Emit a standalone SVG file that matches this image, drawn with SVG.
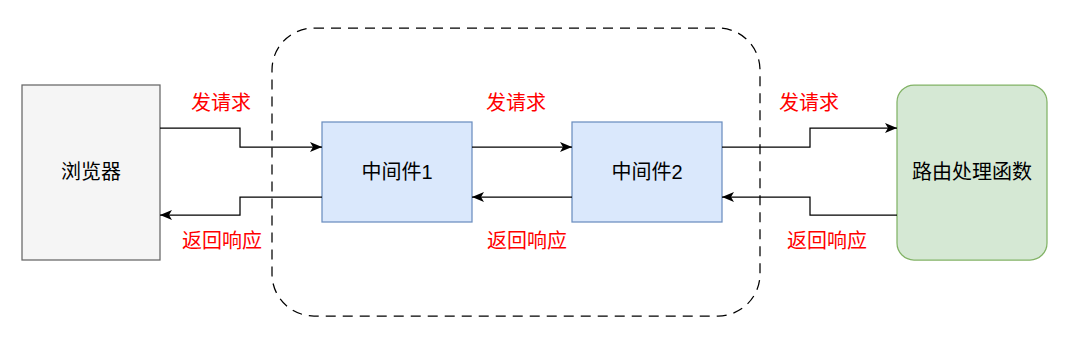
<svg xmlns="http://www.w3.org/2000/svg" width="1067" height="340" viewBox="0 0 1067 340">
  <style>
    .lbl { font-family: "Liberation Sans", "Noto Sans CJK SC", sans-serif; font-size: 20px; text-anchor: middle; dominant-baseline: central; }
    .red { fill: #FF0000; }
    .dark { fill: #000000; }
    .conn { fill: none; stroke: #000000; stroke-width: 1.25; }
  </style>
  <defs>
    <marker id="arr" markerUnits="userSpaceOnUse" markerWidth="14" markerHeight="12" refX="12" refY="5" orient="auto">
      <path d="M0,0 L12,5 L0,10 L3,5 Z" fill="#000000"/>
    </marker>
  </defs>
  <rect width="1067" height="340" fill="#ffffff"/>

  <g id="container">
    <rect x="272" y="28" width="488" height="288" rx="42" ry="42" fill="none" stroke="#000000" stroke-width="1.25" stroke-dasharray="10 7"/>
  </g>

  <g id="browser">
    <rect x="22" y="85" width="138" height="175" fill="#f5f5f5" stroke="#666666" stroke-width="1.25"/>
    <text class="lbl dark" x="91" y="172">浏览器</text>
  </g>

  <g id="mw1">
    <rect x="322" y="122" width="150" height="100" fill="#dae8fc" stroke="#6c8ebf" stroke-width="1.25"/>
    <text class="lbl dark" x="397" y="172">中间件1</text>
  </g>

  <g id="mw2">
    <rect x="572" y="122" width="150" height="100" fill="#dae8fc" stroke="#6c8ebf" stroke-width="1.25"/>
    <text class="lbl dark" x="647" y="172">中间件2</text>
  </g>

  <g id="router">
    <rect x="897" y="85" width="150" height="175" rx="17" ry="17" fill="#d5e8d4" stroke="#82b366" stroke-width="1.25"/>
    <text class="lbl dark" x="972" y="172">路由处理函数</text>
  </g>

  <g id="connectors">
    <path class="conn" d="M160,128 L240,128 L240,147 L322,147" marker-end="url(#arr)"/>
    <path class="conn" d="M322,197 L240,197 L240,215 L160,215" marker-end="url(#arr)"/>
    <path class="conn" d="M472,147 L572,147" marker-end="url(#arr)"/>
    <path class="conn" d="M572,197 L472,197" marker-end="url(#arr)"/>
    <path class="conn" d="M722,147 L810,147 L810,128 L897,128" marker-end="url(#arr)"/>
    <path class="conn" d="M897,215 L810,215 L810,197 L722,197" marker-end="url(#arr)"/>
  </g>

  <g id="labels">
    <text class="lbl red" x="221" y="103">发请求</text>
    <text class="lbl red" x="516" y="103">发请求</text>
    <text class="lbl red" x="809" y="103">发请求</text>
    <text class="lbl red" x="222" y="241">返回响应</text>
    <text class="lbl red" x="527" y="241">返回响应</text>
    <text class="lbl red" x="827" y="241">返回响应</text>
  </g>
</svg>
